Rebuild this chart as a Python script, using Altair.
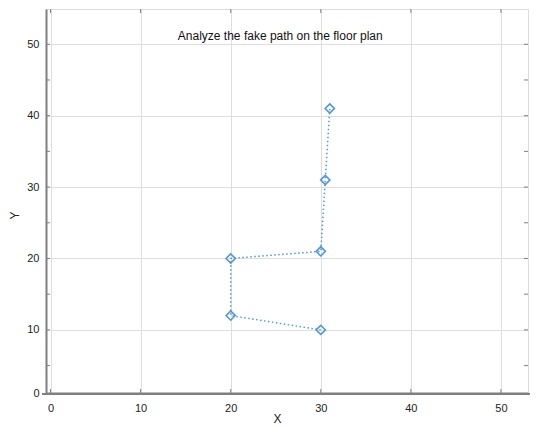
import altair as alt
import pandas as pd

# path points (in visiting order)
xs = [30.0, 20.0, 20.0, 30.0, 30.5, 31.0]
ys = [10.0, 12.0, 20.0, 21.0, 31.0, 41.0]
order = [1, 2, 3, 4, 5, 6]

x_ticks = [0, 10, 20, 30, 40, 50]
y_ticks = [1.16, 5, 10, 15, 20, 25, 30, 35, 40, 45, 50]
title_text = "Analyze the fake path on the floor plan"

W, H = 482, 384
X_DOM = [-0.5, 53.0]
Y_DOM = [1.16, 54.94]
COL = "#4f97d6"
GRAY = "#7f7f7f"
FONT = "Liberation Sans"

df = pd.DataFrame({"x": xs, "y": ys, "o": order})
xt = pd.DataFrame({"v": x_ticks})
yt = pd.DataFrame({"v": [v for v in y_ticks if v >= 5]})

xs_scale = alt.Scale(domain=X_DOM, nice=False, zero=False)
ys_scale = alt.Scale(domain=Y_DOM, nice=False, zero=False)

x_axis = alt.Axis(values=x_ticks, grid=True, gridColor="#dedede", ticks=False,
                  domainColor=GRAY, domainWidth=2, labelFontSize=11, labelFont=FONT,
                  labelColor="#222", labelPadding=9, title="X", titleFont=FONT,
                  titleFontSize=12, titleFontWeight="normal", titleColor="#222",
                  titlePadding=0, titleX=W / 2 - 10)
y_axis = alt.Axis(values=y_ticks, grid=True, gridColor="#dedede", ticks=False,
                  domainColor=GRAY, domainWidth=2, labelFontSize=11, labelFont=FONT,
                  labelColor="#222", labelPadding=7,
                  labelExpr="datum.value < 2 ? '0' : (datum.value % 10 == 0 ? datum.label : '')",
                  title="Y", titleFont=FONT, titleFontSize=12, titleFontWeight="normal",
                  titleColor="#222", titlePadding=5, titleY=H / 2 + 14)

base = alt.Chart(df)
line = base.mark_line(color=COL, strokeWidth=1.5, strokeDash=[1.5, 2.5]).encode(
    x=alt.X("x:Q", scale=xs_scale, axis=x_axis),
    y=alt.Y("y:Q", scale=ys_scale, axis=y_axis),
    order="o:Q",
)
pts = base.mark_point(shape="diamond", filled=False, color=COL, size=85,
                      strokeWidth=1.6, opacity=1).encode(
    x=alt.X("x:Q", scale=xs_scale),
    y=alt.Y("y:Q", scale=ys_scale),
)
title = alt.Chart(pd.DataFrame({"t": [title_text], "x": [25.5], "y": [51.2]})).mark_text(
    font=FONT, fontSize=12, color="#111", align="center", baseline="middle"
).encode(x=alt.X("x:Q", scale=xs_scale), y=alt.Y("y:Q", scale=ys_scale), text="t:N")

tick_bot = alt.Chart(xt).mark_rule(color=GRAY, strokeWidth=1).encode(
    x=alt.X("v:Q", scale=xs_scale), y=alt.value(H), y2=alt.value(H - 4))
tick_top = alt.Chart(xt).mark_rule(color=GRAY, strokeWidth=1).encode(
    x=alt.X("v:Q", scale=xs_scale), y=alt.value(0), y2=alt.value(4))
tick_left = alt.Chart(yt).mark_rule(color=GRAY, strokeWidth=1).encode(
    y=alt.Y("v:Q", scale=ys_scale), x=alt.value(0), x2=alt.value(4))
tick_right = alt.Chart(yt).mark_rule(color=GRAY, strokeWidth=1).encode(
    y=alt.Y("v:Q", scale=ys_scale), x=alt.value(W - 4), x2=alt.value(W))
ext = alt.Chart(xt).mark_rule(color=GRAY, strokeWidth=2).encode(
    x=alt.value(-4), x2=alt.value(W + 10), y=alt.value(H + 1))

chart = alt.layer(line, tick_bot, tick_top, tick_left, tick_right, ext, pts, title).properties(
    width=W, height=H,
    autosize=alt.AutoSizeParams(type="none"),
    padding={"left": 38, "top": 1, "right": 2, "bottom": 31},
).configure_view(stroke=GRAY, strokeWidth=2).configure(background="white")

chart.save("out.html", embed_options={"renderer": "svg", "actions": False})
